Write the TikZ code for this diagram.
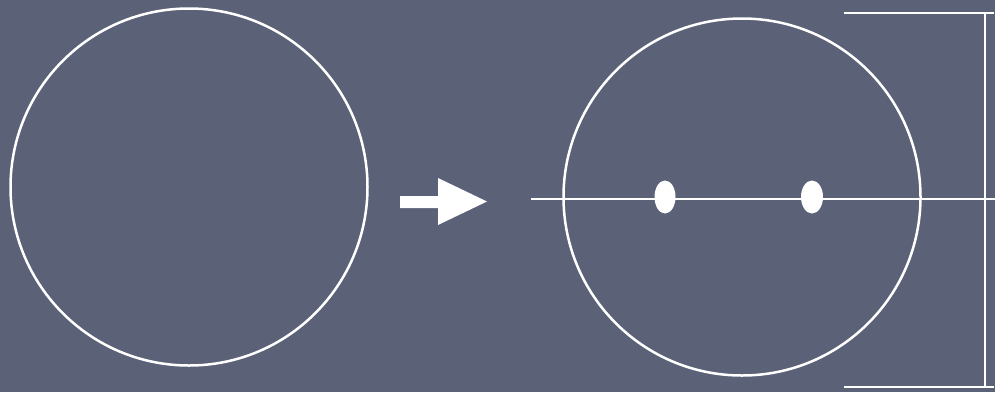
\documentclass[tikz,border=0pt]{standalone}
\definecolor{slate}{RGB}{91,98,120}
\tikzset{
  chalk/.style={draw=white, line width=2.5pt},
  chalkline/.style={draw=white, line width=2pt},
  bigcircle/.style={circle, chalk, minimum size=357pt, inner sep=0pt},
  spot/.style={ellipse, fill=white, inner sep=0pt, minimum width=21pt, minimum height=33pt}
}
\usetikzlibrary{shapes.geometric}
\begin{document}
\begin{tikzpicture}[x=1pt, y=-1pt]
  \fill[slate] (0,0) rectangle (995,392);
  \useasboundingbox (0,0) rectangle (995,392);
  % left circle
  \node[bigcircle] (c1) at (189,187) {};
  % arrow
  \fill[white] (400,196) -- (438,196) -- (438,178) -- (487,201.5) -- (438,225) -- (438,208) -- (400,208) -- cycle;
  % right circle
  \node[bigcircle] (c2) at (742,197) {};
  % horizontal line
  \coordinate (hl) at (531,199);
  \coordinate (hr) at (995,199);
  \draw[chalkline] (hl) -- (hr);
  \node[spot] (s1) at (665,197) {};
  \node[spot, minimum width=22pt] (s2) at (812,197) {};
  % bracket
  \coordinate (ta) at (844,13);
  \coordinate (tb) at (994,13);
  \coordinate (va) at (985,13);
  \coordinate (vb) at (985,387);
  \coordinate (ba) at (844,387);
  \coordinate (bb) at (994,387);
  \draw[chalkline] (ta) -- (tb);
  \draw[chalkline] (va) -- (vb);
  \draw[chalkline] (ba) -- (bb);
\end{tikzpicture}
\end{document}
